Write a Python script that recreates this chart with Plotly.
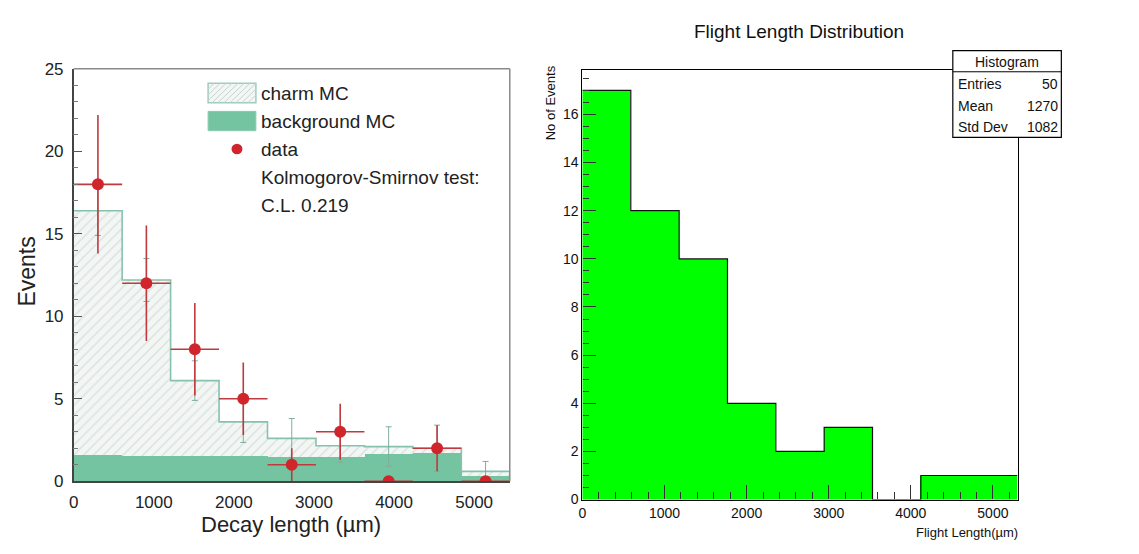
import plotly.graph_objects as go

# ---------------- data ----------------
# Left panel: decay length histogram (bin edges in µm)
decay_bin_edges = [0, 605, 1210, 1815, 2420, 3025, 3630, 4235, 4840, 5445]
charm_mc_total = [16.4, 12.2, 6.1, 3.6, 2.6, 2.15, 2.1, 2.0, 0.6]
background_mc = [1.6, 1.55, 1.55, 1.55, 1.5, 1.5, 1.65, 1.7, 0.35]
mc_err = [1.5, 1.3, 1.2, 1.25, 1.2, 1.0, 1.2, 1.4, 0.6]
data_counts = [18, 12, 8, 5, 1, 3, 0, 2, 0]
data_err = [4.2, 3.5, 2.8, 2.2, 1.0, 1.7, 0.0, 1.4, 0.0]

# Right panel: flight length histogram
flight_bin_edges = [0, 588.9, 1177.8, 1766.7, 2355.6, 2944.4, 3533.3, 4122.2, 4711.1, 5300]
flight_counts = [17, 12, 10, 4, 2, 3, 0, 1, 1]
stats_rows = [("Entries", "50"), ("Mean", "1270"), ("Std Dev", "1082")]

W, H = 1139, 554
SANS = "Liberation Sans, Arial, Helvetica, sans-serif"
ROOTF = "Liberation Sans, Arial, Helvetica, sans-serif"


def px(x):
    return x / W


def py(y):
    return 1 - y / H


def centers(edges):
    return [(a + b) / 2 for a, b in zip(edges[:-1], edges[1:])]


def widths(edges):
    return [b - a for a, b in zip(edges[:-1], edges[1:])]


dc = centers(decay_bin_edges)
dw = widths(decay_bin_edges)
fc = centers(flight_bin_edges)
fw = widths(flight_bin_edges)

fig = go.Figure()

# ---- left panel ----
fig.add_trace(go.Bar(
    x=dc, y=charm_mc_total, width=dw, xaxis="x", yaxis="y",
    marker=dict(color="#f3f6f4", line=dict(width=0),
                pattern=dict(shape="/", fgcolor="#bccfc5", size=7, solidity=0.2, fillmode="overlay")),
    showlegend=False, hoverinfo="skip"))
fig.add_trace(go.Bar(
    x=dc, y=background_mc, width=dw, xaxis="x", yaxis="y",
    marker=dict(color="#74c4a2", line=dict(width=0)),
    showlegend=False, hoverinfo="skip"))
# step outline of charm MC
fig.add_trace(go.Scatter(
    x=decay_bin_edges, y=charm_mc_total + [charm_mc_total[-1]], xaxis="x", yaxis="y",
    mode="lines", line=dict(color="#86c2ad", width=1.6, shape="hv"),
    showlegend=False, hoverinfo="skip"))
# MC error bars
fig.add_trace(go.Scatter(
    x=dc, y=charm_mc_total, xaxis="x", yaxis="y", mode="markers",
    marker=dict(size=1, color="#7fae9c"),
    error_y=dict(type="data", array=mc_err, color="#7fae9c", thickness=1, width=3),
    showlegend=False, hoverinfo="skip"))
# data
fig.add_trace(go.Scatter(
    x=dc, y=data_counts, xaxis="x", yaxis="y", mode="markers",
    marker=dict(size=12, color="#d0252c"),
    error_y=dict(type="data", array=data_err, color="#c0393e", thickness=1.6, width=0),
    error_x=dict(type="data", array=[w / 2 for w in dw], color="#c0393e", thickness=1.6, width=0),
    showlegend=False, hoverinfo="skip"))

# ---- right panel ----
fig.add_trace(go.Bar(
    x=fc, y=flight_counts, width=fw, xaxis="x2", yaxis="y2",
    marker=dict(color="#00ff00", line=dict(width=0)),
    showlegend=False, hoverinfo="skip"))
fig.add_trace(go.Scatter(
    x=flight_bin_edges, y=flight_counts + [flight_counts[-1]], xaxis="x2", yaxis="y2",
    mode="lines", line=dict(color="#111111", width=1.2, shape="hv"),
    showlegend=False, hoverinfo="skip"))

tick_font_l = dict(family=SANS, size=17, color="#222222")
tick_font_r = dict(family=ROOTF, size=14, color="#111111")

fig.update_layout(
    width=W, height=H, margin=dict(l=0, r=0, t=0, b=0),
    paper_bgcolor="white", plot_bgcolor="white", barmode="overlay", bargap=0,
    xaxis=dict(domain=[px(69), px(507)], range=[0, 5445], tickvals=[0, 1000, 2000, 3000, 4000, 5000],
               ticks="", showgrid=False, zeroline=False, showline=True, linecolor="#444444", linewidth=1.5,
               tickfont=tick_font_l, ticklabelstandoff=5, anchor="y", fixedrange=True),
    yaxis=dict(domain=[py(489), py(62)], range=[0, 25], dtick=5, ticks="inside", ticklen=9,
               tickcolor="#555555", minor=dict(dtick=1, ticks="inside", ticklen=5, tickcolor="#777777"),
               showgrid=False, zeroline=False, showline=True, linecolor="#444444", linewidth=1.5,
               tickfont=tick_font_l, ticklabelstandoff=5, anchor="x", fixedrange=True),
    xaxis2=dict(domain=[px(580), px(1017)], range=[0, 5300], dtick=1000, tick0=0, ticks="inside", ticklen=14,
                tickcolor="#333333", minor=dict(dtick=200, ticks="inside", ticklen=7, tickcolor="#333333"),
                showgrid=False, zeroline=False, showline=True, mirror=True, linecolor="black", linewidth=1.2,
                tickfont=tick_font_r, ticklabelstandoff=1, anchor="y2", fixedrange=True),
    yaxis2=dict(domain=[py(508), py(63)], range=[0, 17.85], dtick=2, tick0=0, ticks="inside", ticklen=13,
                tickcolor="#333333", minor=dict(dtick=0.5, ticks="inside", ticklen=6, tickcolor="#333333"),
                showgrid=False, zeroline=False, showline=True, mirror=True, linecolor="black", linewidth=1.2,
                tickfont=tick_font_r, anchor="x2", fixedrange=True),
)

shapes = []
annotations = []

# left frame (top + right) in grey
shapes.append(dict(type="line", xref="paper", yref="paper", x0=px(69), x1=px(507), y0=py(62), y1=py(62),
                   line=dict(color="#8a8a8a", width=1.5)))
shapes.append(dict(type="line", xref="paper", yref="paper", x0=px(507), x1=px(507), y0=py(62), y1=py(489),
                   line=dict(color="#8a8a8a", width=1.5)))

# legend swatches
lx0, lx1 = 204, 252
hy0, hy1 = 77, 97
shapes.append(dict(type="rect", xref="paper", yref="paper", x0=px(lx0), x1=px(lx1), y0=py(hy1), y1=py(hy0),
                   fillcolor="#f3f6f4", line=dict(color="#9dcdbd", width=1.5)))
# hatch lines inside the hatched swatch (45 degrees)
step = 6
hh = hy1 - hy0
s = lx0 - hh
while s < lx1:
    xa, ya = s, hy1
    xb, yb = s + hh, hy0
    if xa < lx0:
        ya = hy1 - (lx0 - xa)
        xa = lx0
    if xb > lx1:
        yb = hy0 + (xb - lx1)
        xb = lx1
    if xb > xa:
        shapes.append(dict(type="line", xref="paper", yref="paper", x0=px(xa), y0=py(ya), x1=px(xb), y1=py(yb),
                           line=dict(color="#c6d6ce", width=1)))
    s += step
shapes.append(dict(type="rect", xref="paper", yref="paper", x0=px(lx0), x1=px(lx1), y0=py(126), y1=py(106),
                   fillcolor="#74c4a2", line=dict(color="#8cc9b3", width=1)))
shapes.append(dict(type="circle", xref="paper", yref="paper", x0=px(227.5), x1=px(238.5), y0=py(150.5),
                   y1=py(139.5), fillcolor="#d0252c", line=dict(color="#d0252c", width=0)))

legend_texts = ["charm MC", "background MC", "data", "Kolmogorov-Smirnov test:", "C.L. 0.219"]
legend_y = [88, 117, 146, 175, 203]
for t, yy in zip(legend_texts, legend_y):
    annotations.append(dict(text=t, xref="paper", yref="paper", x=px(255), y=py(yy), xanchor="left",
                            yanchor="middle", showarrow=False, font=dict(family=SANS, size=19, color="#222222")))

annotations.append(dict(text="Decay length (µm)", xref="paper", yref="paper", x=px(287), y=py(534),
                        xanchor="center", yanchor="middle", showarrow=False,
                        font=dict(family=SANS, size=22, color="#222222")))
annotations.append(dict(text="Events", xref="paper", yref="paper", x=px(22), y=py(272), textangle=-90,
                        xanchor="center", yanchor="middle", showarrow=False,
                        font=dict(family=SANS, size=23, color="#222222")))

# right panel texts
annotations.append(dict(text="Flight Length Distribution", xref="paper", yref="paper", x=px(798), y=py(23),
                        xanchor="center", yanchor="middle", showarrow=False,
                        font=dict(family=ROOTF, size=19, color="#111111")))
annotations.append(dict(text="Flight Length(µm)", xref="paper", yref="paper", x=px(1019), y=py(542),
                        xanchor="right", yanchor="middle", showarrow=False,
                        font=dict(family=ROOTF, size=13, color="#111111")))
annotations.append(dict(text="No of Events", xref="paper", yref="paper", x=px(548), y=py(97), textangle=-90,
                        xanchor="center", yanchor="middle", showarrow=False,
                        font=dict(family=SANS, size=13, color="#111111")))

# stats box
bx0, bx1, by0, by1 = 952, 1061, 43, 133
shapes.append(dict(type="rect", xref="paper", yref="paper", x0=px(bx0), x1=px(bx1), y0=py(by1), y1=py(by0),
                   fillcolor="white", line=dict(color="black", width=1.2), layer="above"))
shapes.append(dict(type="line", xref="paper", yref="paper", x0=px(bx0), x1=px(bx1), y0=py(65), y1=py(65),
                   line=dict(color="black", width=1), layer="above"))
annotations.append(dict(text="Histogram", xref="paper", yref="paper", x=px((bx0 + bx1) / 2), y=py(55),
                        xanchor="center", yanchor="middle", showarrow=False,
                        font=dict(family=ROOTF, size=14, color="#111111")))
for (lab, val), yy in zip(stats_rows, [78, 100, 122]):
    annotations.append(dict(text=lab, xref="paper", yref="paper", x=px(955), y=py(yy), xanchor="left",
                            yanchor="middle", showarrow=False, font=dict(family=ROOTF, size=14, color="#111111")))
    annotations.append(dict(text=val, xref="paper", yref="paper", x=px(1060), y=py(yy), xanchor="right",
                            yanchor="middle", showarrow=False, font=dict(family=ROOTF, size=14, color="#111111")))

fig.update_layout(shapes=shapes, annotations=annotations)
fig.write_html("out.html")
